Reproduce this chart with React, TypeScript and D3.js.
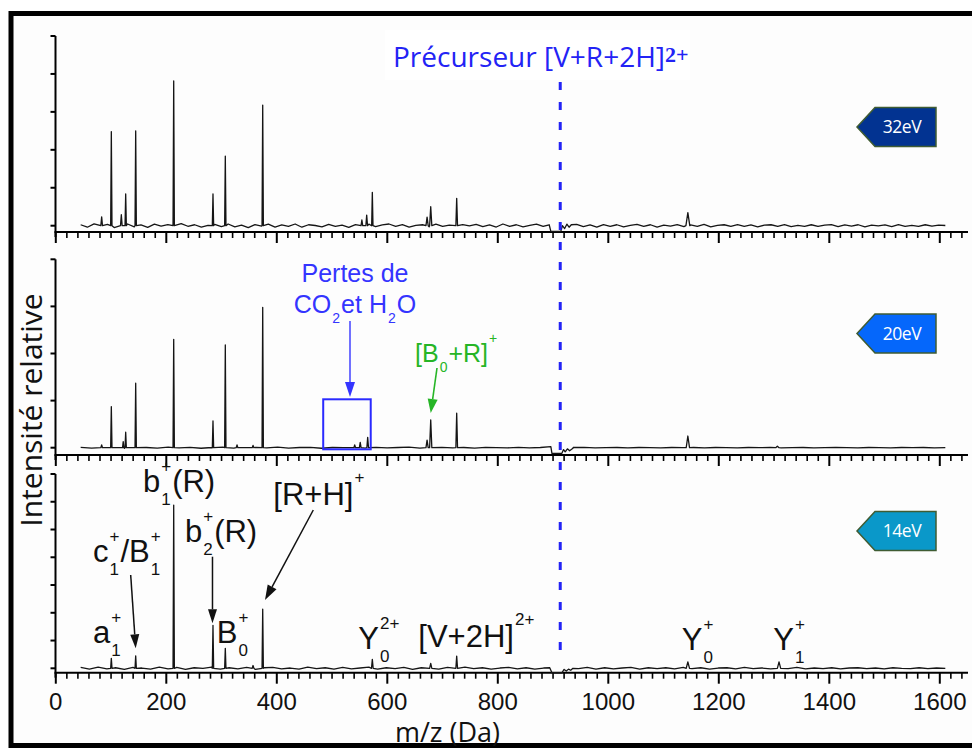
import React from 'react';
import * as d3 from 'd3';

// ---------- DATA ----------
const MZ_START = 45;
const MZ_END = 1610;
const PRECURSOR_MZ = 913;

const xMajorTicks = [0, 200, 400, 600, 800, 1000, 1200, 1400, 1600];
const xMinorStep = 20;
const xMinorMax = 1640;

const energyLabels = ['32eV', '20eV', '14eV'];
const energyColors = ['#023391', '#0567fb', '#0a98c9'];

// y tick values per panel
const topYTicks = [0, 20, 40, 60, 80, 100];
const midYTicks = [0, 25, 50, 75, 100];
const botYTicks = [0, 10, 20, 30, 40, 50, 60, 70];

// peaks: [m/z, intensity, half-width (m/z)]
const topPeaks = [
  [83, 4.7, 1.5], [100.5, 49.6, 1.2], [118.6, 5.8, 1.5], [126.5, 16.7, 1.2], [144.6, 50, 1.2],
  [213.4, 76.3, 1.2], [284.5, 16.7, 1.2], [306.8, 36.7, 1.2], [374.5, 63.6, 1.2],
  [554, 3.0, 1.5], [562.7, 5.6, 1.5], [572.9, 17.6, 1.2], [672, 4.5, 2], [678.6, 10, 2],
  [725.6, 14.4, 1.5], [1144, 6.9, 3.5],
];
const midPeaks = [
  [83, 1.5, 1.5], [100.5, 21.8, 1.2], [122, 3.2, 1.2], [126.5, 8.2, 1.2], [144.6, 34.2, 1.2],
  [213.4, 57.5, 1.2], [284.5, 14.2, 1.2], [306.8, 54.5, 1.2], [328, 1.5, 1.5], [357, 1.2, 1.5],
  [374.5, 74.5, 1.2], [541, 1.5, 1.5], [551, 2.8, 1.5], [564.5, 5.5, 1.5], [672, 4, 2],
  [678.6, 14.7, 2], [725.6, 18.3, 1.5], [1144, 6.2, 3], [1306, 0.8, 3],
];
const botPeaks = [
  [100.5, 3.6, 1.2], [144.6, 4.5, 1.2], [213.4, 58.8, 1.2], [284.5, 15.5, 1.2], [306.8, 7.2, 1.2],
  [357, 1.0, 1.5], [374.5, 21.3, 1.2], [572.9, 3.2, 1.5], [678.6, 1.8, 2], [725.6, 4.4, 1.5],
  [1144, 2.3, 3], [1309, 2.3, 3],
];

// baseline noise (evenly spaced from MZ_START to MZ_END)
const topNoise = [
  0.5, -0.8, 1.0, -0.4, 0.7, -1.0, 0.3, 0.9, -0.6, 0.4,
  -0.9, 0.8, -0.2, 0.6, -0.7, 1.1, -0.3, 0.5, -0.8, 0.2,
  0.7, -0.5, 0.9, -0.6, 0.3, -1.0, 0.6, -0.2, 0.8, -0.7,
  0.4, -0.3, 0.9, -0.8, 0.5, 0.1, -0.6, 0.7, -0.4, 0.3,
  -0.9, 0.6, -0.2, 0.8, -0.5, 0.4, 0.9, -0.3, 0.6, -0.7,
  0.2, 0.5, -0.6, 0.8, -0.4, 0.3, -0.8, 0.6, -0.1, 0.7,
  -0.5, 0.4, -0.7, 0.9, -0.3, 0.5, -0.6, 0.2, 0.8, -0.4,
  0.6, -0.7, 0.3, -0.2, 0.7, -0.5, 0.4, -0.8, 0.6, -0.3,
  0.5, -0.6, 0.2, 0.7, -0.4, 0.5, -0.7, 0.3, -0.2, 0.6,
  -0.5, 0.4, -0.3, 0.7, -0.6, 0.2, 0.5, -0.4, 0.6, -0.3,
  0.4, -0.6, 0.3, 0.5, -0.4, 0.6, -0.5, 0.2, -0.3, 0.5,
  -0.4, 0.3, 0.6, -0.5, 0.4, -0.2, 0.5, -0.6, 0.3, -0.1,
  0.4, -0.5, 0.6, -0.3, 0.2, -0.4, 0.5, -0.2, 0.3, 0.1,
];
const midNoise = [
  0.2, -0.2, 0.3, 0.0, -0.3, 0.2, 0.1, -0.2, 0.3, -0.1,
  0.2, -0.3, 0.1, 0.3, -0.2, 0.0, 0.2, -0.1, 0.3, -0.2,
  0.1, 0.2, -0.3, 0.1, 0.0, 0.3, -0.2, 0.2, -0.1, 0.1,
  0.3, -0.2, 0.0, 0.2, -0.1, 0.1, -0.2, 0.2, 0.0, -0.1,
  0.2, -0.1, 0.1, 0.0, -0.2, 0.1, 0.2, -0.1, 0.0, 0.1,
  -0.1, 0.1, 0.0, -0.1, 0.1, 0.0, 0.1, -0.1, 0.1, 0.0,
  -0.1, 0.1, 0.0, 0.1, -0.1, 0.0, 0.1, -0.1, 0.0, 0.1,
  0.0, -0.1, 0.1, 0.0, -0.1, 0.1, 0.0, 0.1, -0.1, 0.0,
];
const botNoise = [
  0.3, -0.3, 0.4, -0.2, 0.2, -0.4, 0.3, 0.1, -0.3, 0.4,
  -0.2, 0.3, -0.4, 0.2, 0.0, 0.4, -0.3, 0.2, -0.2, 0.3,
  -0.4, 0.2, 0.3, -0.2, 0.1, -0.3, 0.4, -0.1, 0.2, -0.3,
  0.3, -0.2, 0.1, 0.4, -0.3, 0.2, -0.1, 0.3, -0.4, 0.2,
  0.1, -0.3, 0.3, -0.2, 0.4, -0.1, 0.2, -0.3, 0.1, 0.3,
  -0.2, 0.2, -0.3, 0.1, 0.3, -0.2, 0.2, -0.1, 0.3, -0.3,
  0.2, -0.2, 0.1, 0.3, -0.3, 0.2, -0.1, 0.2, -0.2, 0.3,
  -0.1, 0.2, -0.3, 0.1, 0.2, -0.2, 0.3, -0.1, 0.1, -0.2,
  0.2, -0.1, 0.3, -0.2, 0.1, -0.1, 0.2, -0.2, 0.1, 0.2,
  -0.1, 0.1, -0.2, 0.2, 0.0, -0.1, 0.2, -0.1, 0.1, 0.0,
];

// baseline disturbance at the precursor m/z
const topDip = [[893, 0.5], [896, -3.0], [914, -3.0], [917, 0], [921, -1.5], [925, 0.8], [929, -0.8], [933, 0.5]];
const midDip = [[896, 0.6], [898, -3.0], [916, -3.0], [919, -1.0], [922, -2.2], [926, -0.6], [930, -1.6], [936, -0.3]];
const botDip = [[894, 0.2], [898, -1.6], [916, -1.6], [920, -0.4], [924, -1.0], [928, -0.3], [932, -0.7], [936, 0]];

// ---------- LAYOUT ----------
const W = 972, H = 749;
const X0 = 55.8, X1600 = 939.8;
const AXIS_X = 55.5;
const AXIS_END = 968;

const panels = [
  { peaks: topPeaks, noise: topNoise, dip: topDip, yMax: 100, ticks: topYTicks, top: 36, base: 225.7, axisY: 232, tagY: 127, showLabels: false },
  { peaks: midPeaks, noise: midNoise, dip: midDip, yMax: 100, ticks: midYTicks, top: 259.3, base: 447.7, axisY: 455, tagY: 333.5, showLabels: false },
  { peaks: botPeaks, noise: botNoise, dip: botDip, yMax: 70, ticks: botYTicks, top: 474, base: 668.3, axisY: 672.7, tagY: 531, showLabels: true },
];

const ARIAL: Record<string, number> = {
  ' ': 278, '(': 333, ')': 333, '+': 584, '/': 278, '0': 556, '1': 556, '2': 556,
  'B': 667, 'C': 722, 'H': 722, 'O': 778, 'P': 667, 'R': 722, 'V': 667, 'Y': 667,
  '[': 278, ']': 278, 'a': 556, 'b': 556, 'c': 500, 'd': 556, 'e': 556, 'r': 333, 's': 500, 't': 278,
};
const textW = (s: string, size: number) => s.split('').reduce((a, c) => a + (ARIAL[c] ?? 556), 0) * size / 1000;

type Part = { t: string; sub?: string; sup?: string };

function RichLabel({ x, y, parts, size, small, subDy, supDy, fill, anchorMiddle }: {
  x: number; y: number; parts: Part[]; size: number; small: number; subDy: number; supDy: number; fill: string; anchorMiddle?: boolean;
}) {
  const items: React.ReactNode[] = [];
  const layout: { kind: string; s: string; x: number }[] = [];
  let cx = 0;
  parts.forEach((p) => {
    layout.push({ kind: 'n', s: p.t, x: cx });
    cx += textW(p.t, size);
    if (p.sub || p.sup) {
      const gx = cx + 1;
      if (p.sub) layout.push({ kind: 'sub', s: p.sub, x: gx });
      if (p.sup) layout.push({ kind: 'sup', s: p.sup, x: gx });
      cx = gx + Math.max(p.sub ? textW(p.sub, small) : 0, p.sup ? textW(p.sup, small) : 0) + 1;
    }
  });
  const startX = anchorMiddle ? x - cx / 2 : x;
  layout.forEach((l, i) => {
    items.push(
      <text key={i} x={startX + l.x} y={y + (l.kind === 'sub' ? subDy : l.kind === 'sup' ? supDy : 0)}
        fontSize={l.kind === 'n' ? size : small} fill={fill} fontFamily="'Liberation Sans', Arial, sans-serif">{l.s}</text>
    );
  });
  return <g>{items}</g>;
}

function Arrow({ x1, y1, x2, y2, color, len = 13, wid = 9, sw = 1.6 }: any) {
  const a = Math.atan2(y2 - y1, x2 - x1);
  const bx = x2 - len * Math.cos(a), by = y2 - len * Math.sin(a);
  const px = -Math.sin(a) * wid / 2, py = Math.cos(a) * wid / 2;
  return (
    <g>
      <line x1={x1} y1={y1} x2={bx} y2={by} stroke={color} strokeWidth={sw} />
      <polygon points={`${x2},${y2} ${bx + px},${by + py} ${bx - px},${by - py}`} fill={color} />
    </g>
  );
}

function buildTrace(noise: number[], peaks: number[][], dip: number[][]) {
  const step = (MZ_END - MZ_START) / (noise.length - 1);
  let pts: number[][] = noise.map((v, i) => [MZ_START + i * step, v]);
  const lo = dip[0][0], hi = dip[dip.length - 1][0];
  pts = pts.filter((p) => p[0] < lo || p[0] > hi);
  for (const [mz, h, hw] of peaks) {
    pts = pts.filter((p) => Math.abs(p[0] - mz) > hw + 0.5);
    pts.push([mz - hw, 0], [mz, h], [mz + hw, 0]);
  }
  pts.push(...dip);
  pts.sort((a, b) => a[0] - b[0]);
  return pts;
}

export default function App() {
  const x = d3.scaleLinear().domain([0, 1600]).range([X0, X1600]);
  const minor = d3.range(0, xMinorMax + 1, xMinorStep).filter((v) => v % 200 !== 0);
  const blue = '#2323f5';

  return (
    <div style={{ position: 'absolute', left: 0, top: 0 }}>
      <svg width={W} height={H} style={{ display: 'block' }}>
        <rect x={0} y={0} width={W} height={H} fill="#ffffff" />
        <rect x={11} y={13.5} width={990} height={732} fill="#fdfdfd" stroke="#000" strokeWidth={5} />

        {panels.map((p, pi) => {
          const y = d3.scaleLinear().domain([0, p.yMax]).range([p.base, p.top]);
          const pts = buildTrace(p.noise, p.peaks, p.dip);
          const line = d3.line<number[]>().x((d) => x(d[0])).y((d) => y(d[1]));
          return (
            <g key={pi}>
              {/* y axis */}
              <line x1={AXIS_X} x2={AXIS_X} y1={p.top} y2={p.axisY + 5} stroke="#000" strokeWidth={2} />
              {p.ticks.map((t) => (
                <line key={t} x1={AXIS_X - 5} x2={AXIS_X} y1={y(t)} y2={y(t)} stroke="#000" strokeWidth={2} />
              ))}
              {/* x axis */}
              <line x1={AXIS_X - 1} x2={AXIS_END} y1={p.axisY} y2={p.axisY} stroke="#000" strokeWidth={2} />
              {xMajorTicks.map((t) => (
                <line key={'M' + t} x1={x(t)} x2={x(t)} y1={p.axisY} y2={p.axisY + 11} stroke="#000" strokeWidth={2} />
              ))}
              {minor.map((t) => (
                <line key={'m' + t} x1={x(t)} x2={x(t)} y1={p.axisY} y2={p.axisY + 6} stroke="#000" strokeWidth={1.6} />
              ))}
              {p.showLabels && xMajorTicks.map((t) => (
                <text key={'L' + t} x={x(t)} y={710} textAnchor="middle" fontSize={24}
                  fontFamily="'Liberation Sans', Arial, sans-serif" fill="#111">{t}</text>
              ))}
              {/* spectrum */}
              <path d={line(pts) || ''} fill="none" stroke="#151515" strokeWidth={1.3} strokeLinejoin="round" />
              {/* energy tag */}
              <polygon
                points={`857,${p.tagY} 875,${p.tagY - 19.5} 936,${p.tagY - 19.5} 936,${p.tagY + 19.5} 875,${p.tagY + 19.5}`}
                fill={energyColors[pi]} stroke="#3f5c33" strokeWidth={1.5} />
              <text x={902} y={p.tagY + 6} textAnchor="middle" fontSize={17.5} fill="#fff"
                fontFamily="'Open Sans', sans-serif" letterSpacing={-0.5}>{energyLabels[pi]}</text>
            </g>
          );
        })}

        {/* precursor */}
        <rect x={385} y={30} width={305} height={50} fill="#ffffff" />
        <text x={393} y={66.7} fontSize={28} fill={blue} fontFamily="'Open Sans', sans-serif">
          Précurseur [V+R+2H]
          <tspan dy={-5} fontSize={22} fontWeight="bold" fontFamily="'Liberation Serif', 'DejaVu Serif', serif">2+</tspan>
        </text>
        <line x1={x(PRECURSOR_MZ)} x2={x(PRECURSOR_MZ)} y1={82} y2={655} stroke={blue} strokeWidth={3} strokeDasharray="8 12" />

        {/* middle annotations */}
        <text x={355} y={281.7} textAnchor="middle" fontSize={25} fill="#3434ff" fontFamily="'Liberation Sans', Arial, sans-serif">Pertes de</text>
        <RichLabel x={355} y={313.3} anchorMiddle parts={[{ t: 'CO', sub: '2' }, { t: 'et H', sub: '2' }, { t: 'O' }]}
          size={25} small={14} subDy={10} supDy={-17} fill="#3434ff" />
        <Arrow x1={350} y1={321} x2={350} y2={397} color="#3434ff" len={15} wid={10} sw={1.4} />
        <rect x={x(484)} y={399.3} width={x(570) - x(484)} height={50} fill="none" stroke="#2a2aff" strokeWidth={2} />
        <RichLabel x={415} y={361.7} parts={[{ t: '[B', sub: '0' }, { t: '+R]', sup: '+' }]}
          size={25} small={14} subDy={10} supDy={-19} fill="#26b526" />
        <Arrow x1={437} y1={368} x2={x(678.6)} y2={413} color="#26b526" len={14} wid={10} sw={1.6} />

        {/* bottom annotations */}
        <RichLabel x={143} y={491.7} parts={[{ t: 'b', sub: '1', sup: '+' }, { t: '(R)' }]} size={31} small={17} subDy={13} supDy={-20} fill="#111" />
        <RichLabel x={93} y={561.7} parts={[{ t: 'c', sub: '1', sup: '+' }, { t: '/B', sub: '1', sup: '+' }]} size={31} small={17} subDy={13} supDy={-20} fill="#111" />
        <RichLabel x={185} y={541.7} parts={[{ t: 'b', sub: '2', sup: '+' }, { t: '(R)' }]} size={31} small={17} subDy={13} supDy={-20} fill="#111" />
        <RichLabel x={216.7} y={643.3} parts={[{ t: 'B', sub: '0', sup: '+' }]} size={31} small={17} subDy={13} supDy={-20} fill="#111" />
        <RichLabel x={273.3} y={505} parts={[{ t: '[R+H]', sup: '+' }]} size={31} small={17} subDy={13} supDy={-22} fill="#111" />
        <RichLabel x={93} y={642.7} parts={[{ t: 'a', sub: '1', sup: '+' }]} size={31} small={17} subDy={13} supDy={-20} fill="#111" />
        <RichLabel x={358.3} y={649.3} parts={[{ t: 'Y', sub: '0', sup: '2+' }]} size={31} small={17} subDy={13} supDy={-20} fill="#111" />
        <RichLabel x={418.3} y={646.7} parts={[{ t: '[V+2H]', sup: '2+' }]} size={31} small={17} subDy={13} supDy={-22} fill="#111" />
        <RichLabel x={681.7} y={650} parts={[{ t: 'Y', sub: '0', sup: '+' }]} size={31} small={17} subDy={13} supDy={-20} fill="#111" />
        <RichLabel x={773.3} y={650} parts={[{ t: 'Y', sub: '1', sup: '+' }]} size={31} small={17} subDy={13} supDy={-20} fill="#111" />

        <Arrow x1={130.7} y1={575} x2={x(144.6)} y2={648.3} color="#111" len={14} wid={9} sw={1.5} />
        <Arrow x1={x(284.5) - 0.5} y1={556.7} x2={x(284.5) - 0.5} y2={623.3} color="#111" len={14} wid={9} sw={1.5} />
        <Arrow x1={313.3} y1={510} x2={265} y2={600} color="#111" len={15} wid={10} sw={1.5} />

        {/* axis titles */}
        <text transform="translate(42,410) rotate(-90)" textAnchor="middle" fontSize={30} fill="#111"
          fontFamily="'Open Sans', sans-serif">Intensité relative</text>
        <text x={447.5} y={742} textAnchor="middle" fontSize={27} fill="#111"
          fontFamily="'Open Sans', sans-serif">m/z (Da)</text>
      </svg>
    </div>
  );
}
